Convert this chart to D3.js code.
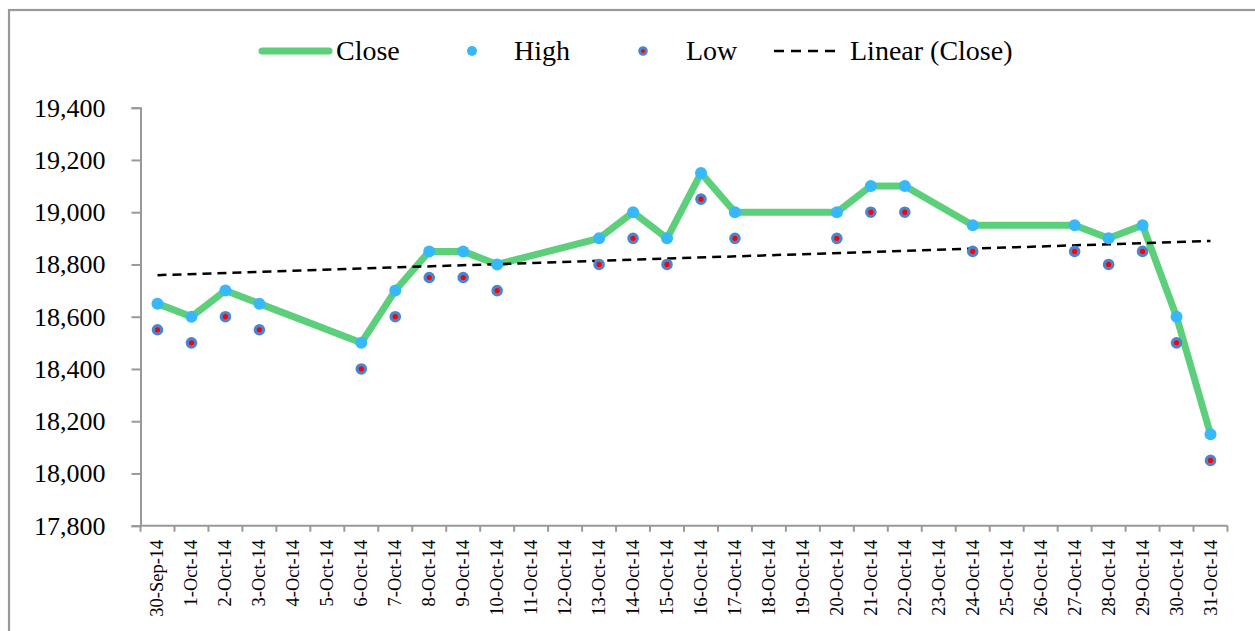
<!DOCTYPE html>
<html>
<head>
<meta charset="utf-8">
<script src="https://cdn.jsdelivr.net/npm/d3@7"></script>
<style>
    body { margin: 0; background: #fff; }
    svg { display: block; font-family: "Liberation Serif", "Times New Roman", serif; }
</style>
</head>
<body>
<div id="chart"></div>
<script>
// every calendar day on the category axis
const categories = ["30-Sep-14", "1-Oct-14", "2-Oct-14", "3-Oct-14", "4-Oct-14", "5-Oct-14", "6-Oct-14",
    "7-Oct-14", "8-Oct-14", "9-Oct-14", "10-Oct-14", "11-Oct-14", "12-Oct-14", "13-Oct-14", "14-Oct-14",
    "15-Oct-14", "16-Oct-14", "17-Oct-14", "18-Oct-14", "19-Oct-14", "20-Oct-14", "21-Oct-14", "22-Oct-14",
    "23-Oct-14", "24-Oct-14", "25-Oct-14", "26-Oct-14", "27-Oct-14", "28-Oct-14", "29-Oct-14", "30-Oct-14",
    "31-Oct-14"];

// trading days only
const tradeDates = ["30-Sep-14", "1-Oct-14", "2-Oct-14", "3-Oct-14", "6-Oct-14", "7-Oct-14", "8-Oct-14",
    "9-Oct-14", "10-Oct-14", "13-Oct-14", "14-Oct-14", "15-Oct-14", "16-Oct-14", "17-Oct-14", "20-Oct-14",
    "21-Oct-14", "22-Oct-14", "24-Oct-14", "27-Oct-14", "28-Oct-14", "29-Oct-14", "30-Oct-14", "31-Oct-14"];
const closeValues = [18650, 18600, 18700, 18650, 18500, 18700, 18850, 18850, 18800, 18900, 19000, 18900,
    19150, 19000, 19000, 19100, 19100, 18950, 18950, 18900, 18950, 18600, 18150];
const highValues = [18650, 18600, 18700, 18650, 18500, 18700, 18850, 18850, 18800, 18900, 19000, 18900,
    19150, 19000, 19000, 19100, 19100, 18950, 18950, 18900, 18950, 18600, 18150];
const lowValues = [18550, 18500, 18600, 18550, 18400, 18600, 18750, 18750, 18700, 18800, 18900, 18800,
    19050, 18900, 18900, 19000, 19000, 18850, 18850, 18800, 18850, 18500, 18050];

const yTicks = [17800, 18000, 18200, 18400, 18600, 18800, 19000, 19200, 19400];

const width = 1255, height = 631;
const plot = {left: 140.5, right: 1227.5, top: 107.7, bottom: 525.7};

const svg = d3.select("#chart")
    .append("svg")
    .attr("width", width)
    .attr("height", height);

// outer chart frame (cut off at right and bottom)
svg.append("rect")
    .attr("x", 9).attr("y", 10)
    .attr("width", 1300).attr("height", 700)
    .attr("fill", "none")
    .attr("stroke", "#999")
    .attr("stroke-width", 2.2);

const x = d3.scaleBand()
    .domain(categories)
    .range([plot.left, plot.right]);

const y = d3.scaleLinear()
    .domain([17800, 19400])
    .range([plot.bottom, plot.top]);

const cx = (d) => x(d) + x.bandwidth() / 2;

// y axis
const yAxis = svg.append("g")
    .attr("transform", `translate(${plot.left},0)`)
    .call(d3.axisLeft(y).tickValues(yTicks).tickFormat(d3.format(",")).tickSize(9).tickPadding(26))
    .attr("font-family", null);
yAxis.select(".domain").attr("stroke", "#999").attr("stroke-width", 2);
yAxis.selectAll(".tick line").attr("stroke", "#999").attr("stroke-width", 2);
yAxis.selectAll("text")
    .attr("fill", "#000")
    .style("font-size", "26px");

// x axis, ticks sit between categories
const xAxis = svg.append("g")
    .attr("transform", `translate(0,${plot.bottom})`);
xAxis.append("line")
    .attr("x1", plot.left).attr("x2", plot.right)
    .attr("stroke", "#999").attr("stroke-width", 2);
xAxis.selectAll("line.tk")
    .data(categories.concat(["end"]))
    .enter()
    .append("line")
    .attr("class", "tk")
    .attr("x1", (d, i) => plot.left + i * x.step())
    .attr("x2", (d, i) => plot.left + i * x.step())
    .attr("y1", 0).attr("y2", 6)
    .attr("stroke", "#999").attr("stroke-width", 2);
xAxis.selectAll("text")
    .data(categories)
    .enter()
    .append("text")
    .attr("transform", (d) => `translate(${cx(d) + 6},14) rotate(-90)`)
    .attr("text-anchor", "end")
    .style("font-size", "18.5px")
    .attr("fill", "#000")
    .text((d) => d);

// linear trend of Close against the date position
const xs = tradeDates.map(d => categories.indexOf(d));
const mx = d3.mean(xs), my = d3.mean(closeValues);
const slope = d3.sum(xs, (v, i) => (v - mx) * (closeValues[i] - my)) / d3.sum(xs, v => (v - mx) * (v - mx));
const intercept = my - slope * mx;
const trend = [categories[0], categories[categories.length - 1]]
    .map(d => ({date: d, value: intercept + slope * categories.indexOf(d)}));

const closeData = tradeDates.map((d, i) => ({date: d, value: closeValues[i]}));
const line = d3.line().x(d => cx(d.date)).y(d => y(d.value));

svg.append("path")
    .datum(closeData)
    .attr("d", line)
    .attr("fill", "none")
    .attr("stroke", "#5ccf7a")
    .attr("stroke-width", 7)
    .attr("stroke-linejoin", "round");

svg.append("path")
    .datum(trend)
    .attr("d", line)
    .attr("fill", "none")
    .attr("stroke", "#000")
    .attr("stroke-width", 2.5)
    .attr("stroke-dasharray", "9,6");

svg.selectAll("circle.high")
    .data(tradeDates)
    .enter()
    .append("circle")
    .attr("class", "high")
    .attr("cx", d => cx(d))
    .attr("cy", (d, i) => y(highValues[i]))
    .attr("r", 6)
    .attr("fill", "#36b8fb");

svg.selectAll("circle.low")
    .data(tradeDates)
    .enter()
    .append("circle")
    .attr("class", "low")
    .attr("cx", d => cx(d))
    .attr("cy", (d, i) => y(lowValues[i]))
    .attr("r", 4.2)
    .attr("fill", "#f00")
    .attr("stroke", "#4a85d2")
    .attr("stroke-width", 3.2);

// legend
const legend = svg.append("g").attr("transform", "translate(0,51)");
legend.append("line")
    .attr("x1", 262).attr("x2", 329)
    .attr("stroke", "#5ccf7a").attr("stroke-width", 7).attr("stroke-linecap", "round");
legend.append("circle").attr("cx", 472).attr("r", 5).attr("fill", "#36b8fb");
legend.append("circle").attr("cx", 643).attr("r", 3.4)
    .attr("fill", "#f00").attr("stroke", "#4a85d2").attr("stroke-width", 2.8);
legend.append("line")
    .attr("x1", 774).attr("x2", 838)
    .attr("stroke", "#000").attr("stroke-width", 2.5).attr("stroke-dasharray", "10,7");

const legendLabels = [{text: "Close", x: 336}, {text: "High", x: 514}, {text: "Low", x: 686}, {text: "Linear (Close)", x: 850}];
legend.selectAll("text")
    .data(legendLabels)
    .enter()
    .append("text")
    .attr("x", d => d.x)
    .attr("y", 9)
    .style("font-size", "28px")
    .attr("fill", "#000")
    .text(d => d.text);
</script>
</body>
</html>
